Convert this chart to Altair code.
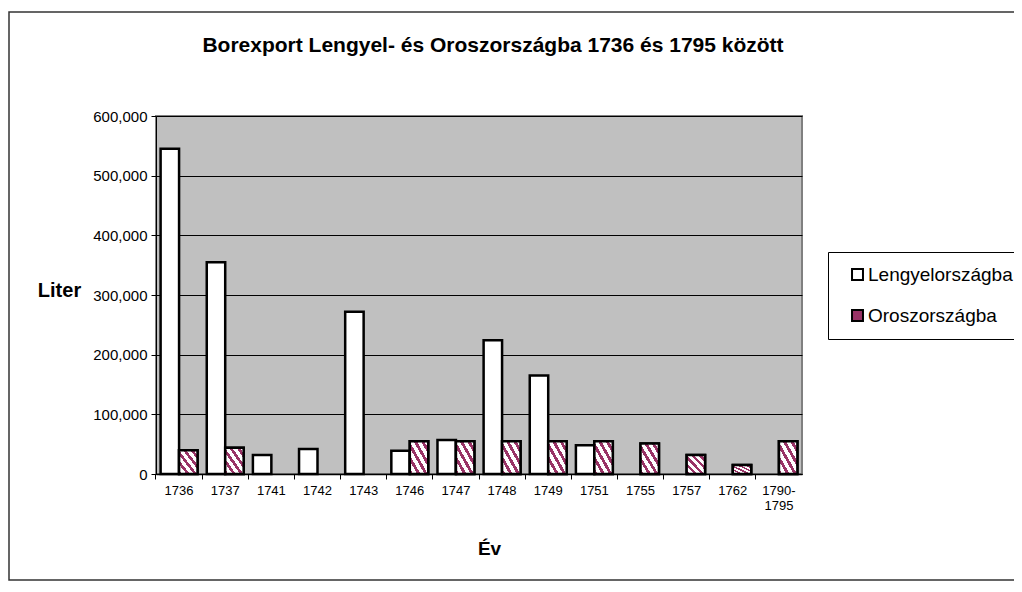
import altair as alt
import pandas as pd

categories = ["1736", "1737", "1741", "1742", "1743", "1746", "1747",
              "1748", "1749", "1751", "1755", "1757", "1762", "1790-1795"]
lengyel = [545000, 355000, 32000, 42000, 272000, 39000, 57000,
           224000, 165000, 48000, None, None, None, None]
orosz = [40000, 44000, None, None, None, 55000, 55000,
         55000, 55000, 55000, 51000, 32000, 15000, 55000]
series_names = ["Lengyelországba", "Oroszországba"]

rows = []
for c, l, o in zip(categories, lengyel, orosz):
    if l is not None:
        rows.append({"ev": c, "orszag": series_names[0], "liter": l})
    if o is not None:
        rows.append({"ev": c, "orszag": series_names[1], "liter": o})
df = pd.DataFrame(rows)

FONT = "Liberation Sans"
MAROON = "#993366"

stops = []
N = 5
for k in range(N):
    a = k / N
    b = (k + 0.45) / N
    c = (k + 1) / N
    stops += [{"offset": a, "color": MAROON}, {"offset": b, "color": MAROON},
              {"offset": b, "color": "#ffffff"}, {"offset": c, "color": "#ffffff"}]
stripes = {"gradient": "linear", "x1": 0, "y1": 1, "x2": 1, "y2": 0, "stops": stops}

x_scale = alt.Scale(domain=categories, paddingInner=0.2, paddingOuter=0.1)
off_scale = alt.Scale(domain=series_names)
y_scale = alt.Scale(domain=[0, 600000])

y_axis = alt.Axis(values=[0, 100000, 200000, 300000, 400000, 500000, 600000],
                  labelExpr="format(datum.value, ',')",
                  title="Liter", titleAngle=0, titleX=-97, titleY=174,
                  titleAlign="center", titleBaseline="middle",
                  titleFont=FONT, titleFontSize=20, titleFontWeight="bold",
                  titleColor="black",
                  labelFont=FONT, labelFontSize=15, labelColor="black",
                  labelPadding=4, tickSize=5, tickColor="black",
                  domainColor="black", grid=True, gridColor="black",
                  gridWidth=1)

base = alt.Chart(df)

bars = base.mark_bar(stroke="black", strokeWidth=2.5).encode(
    x=alt.X("ev:N", scale=x_scale, sort=categories,
            axis=alt.Axis(title="Év", orient="bottom", titleFont=FONT, titleFontSize=19,
                          titleFontWeight="bold", titleColor="black",
                          titleX=333, titleY=74, titleBaseline="middle",
                          labelAngle=0, labelFont=FONT, labelFontSize=13,
                          labelColor="black", labelPadding=10, ticks=False,
                          domain=False,
                          labelExpr="datum.value == '1790-1795' ? ['1790-', '1795'] : datum.label")),
    xOffset=alt.XOffset("orszag:N", scale=off_scale),
    y=alt.Y("liter:Q", scale=y_scale, axis=y_axis),
    color=alt.Color("orszag:N",
                    scale=alt.Scale(domain=series_names, range=["#ffffff", MAROON]),
                    legend=alt.Legend(title=None, orient="none", legendX=672, legendY=136,
                                      strokeColor="black", fillColor="white", padding=13,
                                      symbolType="square", symbolSize=120,
                                      symbolStrokeColor="black", symbolStrokeWidth=2,
                                      symbolOffset=7, labelOffset=1,
                                      labelFont=FONT, labelFontSize=19,
                                      labelColor="black", rowPadding=21)),
)

stripe_bars = base.transform_filter(
    alt.datum.orszag == series_names[1]
).mark_bar(fill=stripes, stroke="black", strokeWidth=2.5).encode(
    x=alt.X("ev:N", scale=x_scale, sort=categories,
            axis=alt.Axis(title=None, orient="bottom", labels=False, ticks=True, tickSize=5,
                          tickColor="black", domain=True, domainColor="black",
                          domainWidth=1.5, bandPosition=-0.125)),
    xOffset=alt.XOffset("orszag:N", scale=off_scale),
    y=alt.Y("liter:Q", scale=y_scale, axis=y_axis),
)

frame = alt.Chart(alt.Data(values=[{}])).mark_rect(
    filled=False, stroke="#333333", strokeWidth=1.5
).encode(
    x=alt.value(-147), x2=alt.value(900), y=alt.value(-104), y2=alt.value(464)
)

chart = alt.layer(bars, stripe_bars, frame).resolve_axis(x="independent").properties(
    width=646, height=358,
    autosize=alt.AutoSizeParams(type="none"),
    padding={"left": 148, "top": 108, "right": 212, "bottom": 110},
    background="white",
    title=alt.Title("Borexport Lengyel- és Oroszországba 1736 és 1795 között",
                    font=FONT, fontSize=21, fontWeight="bold", color="black",
                    offset=-45, anchor="middle", dx=14),
).configure_view(
    fill="#C0C0C0", stroke="#808080", strokeWidth=2
)

chart.save("out.html", embed_options={"renderer": "svg", "actions": False})
